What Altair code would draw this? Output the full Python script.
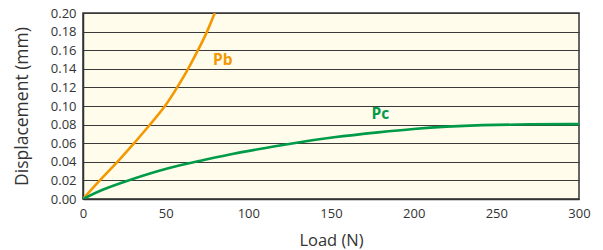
import altair as alt
import pandas as pd

pb_load = [0, 10, 21, 31, 40.5, 50, 57, 63.7, 69.6, 75.2, 79.7]
pb_disp = [0.0, 0.02, 0.04, 0.06, 0.08, 0.10, 0.12, 0.14, 0.16, 0.18, 0.20]

pc_load = [0, 10, 27, 52, 71, 91, 111, 127, 151, 180, 200, 220, 240, 270, 300]
pc_disp = [0.0, 0.0092, 0.02, 0.034, 0.041, 0.049, 0.055, 0.06, 0.0665, 0.072,
           0.0755, 0.078, 0.0795, 0.0805, 0.0805]

series_names = ["Pb", "Pc"]
series_colors = ["#F39800", "#009B48"]
label_x = [78.6, 174.5]
label_y = [0.149, 0.0913]

x_ticks = [0, 50, 100, 150, 200, 250, 300]
y_ticks = [0.0, 0.02, 0.04, 0.06, 0.08, 0.10, 0.12, 0.14, 0.16, 0.18, 0.20]

rows = []
for l, d in zip(pb_load, pb_disp):
    rows.append({"load": l, "disp": d, "series": "Pb"})
for l, d in zip(pc_load, pc_disp):
    rows.append({"load": l, "disp": d, "series": "Pc"})
df = pd.DataFrame(rows)
labels = pd.DataFrame({"series": series_names, "x": label_x, "y": label_y})

FONT = "Open Sans"
color_scale = alt.Scale(domain=series_names, range=series_colors)

xs = alt.Scale(domain=[0, 300], nice=False)
ys = alt.Scale(domain=[0, 0.2], nice=False)

x_axis = alt.Axis(title="Load (N)", values=x_ticks, grid=False,
                  titleY=41, titleBaseline="middle")
y_axis = alt.Axis(title="Displacement (mm)", values=y_ticks, format=".2f", grid=True,
                  titleX=-61, titleY=93, titleBaseline="middle", titleAlign="center",
                  titleAngle=-90, titleFontSize=17.5)

lines = alt.Chart(df).mark_line(interpolate="basis", strokeWidth=2.6, clip=True).encode(
    x=alt.X("load:Q", scale=xs, axis=x_axis),
    y=alt.Y("disp:Q", scale=ys, axis=y_axis),
    color=alt.Color("series:N", scale=color_scale, legend=None),
    detail="series:N",
)

texts = alt.Chart(labels).mark_text(
    font=FONT, fontSize=15.5, fontWeight="bold", align="left", baseline="middle"
).encode(
    x=alt.X("x:Q", scale=xs, axis=x_axis),
    y=alt.Y("y:Q", scale=ys, axis=y_axis),
    text="series:N",
    color=alt.Color("series:N", scale=color_scale, legend=None),
)

chart = alt.layer(lines, texts).properties(
    width=496, height=186,
    autosize=alt.AutoSizeParams(type="none"),
    padding={"left": 75, "top": 5, "right": 12, "bottom": 50},
    background="#FFFFFF",
).configure_view(
    fill="#FFFCEC", stroke="#333333", strokeWidth=1.5
).configure_axis(
    ticks=False, tickSize=0, labelFlush=False, labelOverlap=False,
    labelFontSize=13, labelFont=FONT, labelColor="#333333",
    titleFont=FONT, titleFontSize=16.5, titleFontWeight="normal", titleColor="#333333",
    domainColor="#333333", domainWidth=1.5,
    gridColor="#3a3a3a", gridWidth=1, gridOpacity=1,
).configure_axisX(
    labelPadding=8
).configure_axisY(
    labelPadding=7
)

chart.save("out.html", embed_options={"renderer": "svg", "actions": False})
